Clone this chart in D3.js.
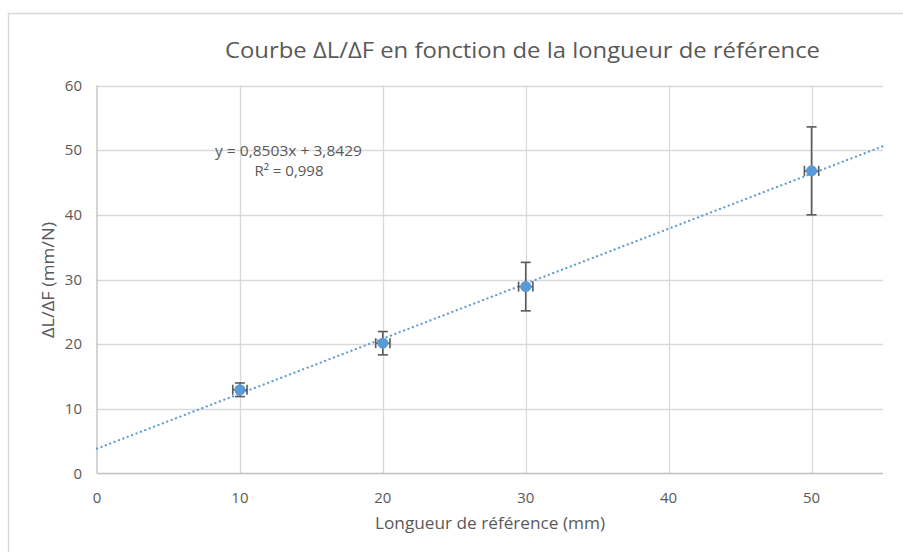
<!DOCTYPE html>
<html><head><meta charset="utf-8">
<script src="https://cdn.jsdelivr.net/npm/d3@7/dist/d3.min.js"></script>
<style>body{margin:0;background:#fff;}svg{display:block;font-family:"Open Sans","Noto Sans",sans-serif;}</style>
</head><body>
<svg id="c" width="903" height="552"></svg>
<script>
const lengths = [10, 20, 30, 50];
const ratios = [12.95, 20.15, 28.9, 46.8];
const yErrors = [1.05, 1.8, 3.75, 6.8];
const xErrors = [0.5, 0.5, 0.5, 0.5];
const xTicks = [0, 10, 20, 30, 40, 50];
const yTicks = [0, 10, 20, 30, 40, 50, 60];
const slope = 0.8503, intercept = 3.8429;
const titleText = "Courbe ΔL/ΔF en fonction de la longueur de référence";
const xLabel = "Longueur de référence (mm)";
const yLabel = "ΔL/ΔF (mm/N)";
const eqText = "y = 0,8503x + 3,8429";
const r2Text = "R² = 0,998";

const svg = d3.select("#c");
const m = {l:97, r:883, t:85.5, b:473.5};
const x = d3.scaleLinear().domain([0,55]).range([m.l, m.r]);
const y = d3.scaleLinear().domain([0,60]).range([m.b, m.t]);

// chart border
svg.append("rect").attr("x",8.5).attr("y",13.5).attr("width",1000).attr("height",1000)
  .attr("fill","none").attr("stroke","#d9d9d9").attr("stroke-width",1.5);

// gridlines
svg.append("g").selectAll("line").data(yTicks.filter(d=>d>0)).join("line")
  .attr("x1",m.l).attr("x2",m.r).attr("y1",d=>Math.round(y(d))+0.5).attr("y2",d=>Math.round(y(d))+0.5)
  .attr("stroke","#d9d9d9").attr("stroke-width",1.3);
svg.append("g").selectAll("line").data(xTicks.filter(d=>d>0)).join("line")
  .attr("y1",m.t).attr("y2",m.b).attr("x1",d=>Math.round(x(d))+0.5).attr("x2",d=>Math.round(x(d))+0.5)
  .attr("stroke","#d9d9d9").attr("stroke-width",1.3);

// axes lines
svg.append("line").attr("x1",m.l).attr("x2",m.l).attr("y1",m.t).attr("y2",m.b).attr("stroke","#bfbfbf").attr("stroke-width",1.3);
svg.append("line").attr("x1",m.l).attr("x2",m.r).attr("y1",m.b).attr("y2",m.b).attr("stroke","#bfbfbf").attr("stroke-width",1.3);

// tick labels
svg.append("g").selectAll("text").data(yTicks).join("text")
  .attr("x",m.l-15).attr("y",d=>y(d)).attr("dy","0.35em").attr("text-anchor","end")
  .attr("font-size",15).attr("fill","#595959").text(d=>d);
svg.append("g").selectAll("text").data(xTicks).join("text")
  .attr("x",d=>x(d)).attr("y",m.b+29).attr("text-anchor","middle")
  .attr("font-size",15).attr("fill","#595959").text(d=>d);

// trendline
svg.append("line").attr("x1",x(0)).attr("y1",y(intercept)).attr("x2",x(55)).attr("y2",y(slope*55+intercept))
  .attr("stroke","#5b9bd5").attr("stroke-width",2.2).attr("stroke-dasharray","0.1 4.6").attr("stroke-linecap","round");

// error bars
const data = lengths.map((d,i)=>({x:d,y:ratios[i],ey:yErrors[i],ex:xErrors[i]}));
const eb = svg.append("g").attr("stroke","#595959").attr("stroke-width",1.6);
data.forEach(d=>{
  const cx=x(d.x), cy=y(d.y);
  eb.append("line").attr("x1",cx).attr("x2",cx).attr("y1",y(d.y+d.ey)).attr("y2",y(d.y-d.ey));
  eb.append("line").attr("x1",cx-5).attr("x2",cx+5).attr("y1",y(d.y+d.ey)).attr("y2",y(d.y+d.ey));
  eb.append("line").attr("x1",cx-5).attr("x2",cx+5).attr("y1",y(d.y-d.ey)).attr("y2",y(d.y-d.ey));
  eb.append("line").attr("x1",x(d.x-d.ex)).attr("x2",x(d.x+d.ex)).attr("y1",cy).attr("y2",cy);
  eb.append("line").attr("x1",x(d.x-d.ex)).attr("x2",x(d.x-d.ex)).attr("y1",cy-5).attr("y2",cy+5);
  eb.append("line").attr("x1",x(d.x+d.ex)).attr("x2",x(d.x+d.ex)).attr("y1",cy-5).attr("y2",cy+5);
});

// points
svg.append("g").selectAll("circle").data(data).join("circle")
  .attr("cx",d=>x(d.x)).attr("cy",d=>y(d.y)).attr("r",5.5).attr("fill","#5b9bd5");

// equation
svg.append("text").attr("x",288.5).attr("y",156).attr("text-anchor","middle").attr("font-size",15)
  .attr("textLength",147).attr("lengthAdjust","spacingAndGlyphs").attr("fill","#595959").text(eqText);
svg.append("text").attr("x",289).attr("y",176).attr("text-anchor","middle").attr("font-size",15).attr("fill","#595959").text(r2Text);

// title
svg.append("text").attr("x",522.5).attr("y",58).attr("text-anchor","middle").attr("font-size",22)
  .attr("textLength",595).attr("lengthAdjust","spacingAndGlyphs").attr("fill","#595959").text(titleText);
// axis titles
svg.append("text").attr("x",490).attr("y",529).attr("text-anchor","middle").attr("font-size",16.5)
  .attr("textLength",230).attr("lengthAdjust","spacingAndGlyphs").attr("fill","#595959").text(xLabel);
svg.append("text").attr("transform","translate(54,280) rotate(-90)").attr("text-anchor","middle").attr("font-size",16.5)
  .attr("textLength",116).attr("lengthAdjust","spacingAndGlyphs").attr("fill","#595959").text(yLabel);
</script>
</body></html>
